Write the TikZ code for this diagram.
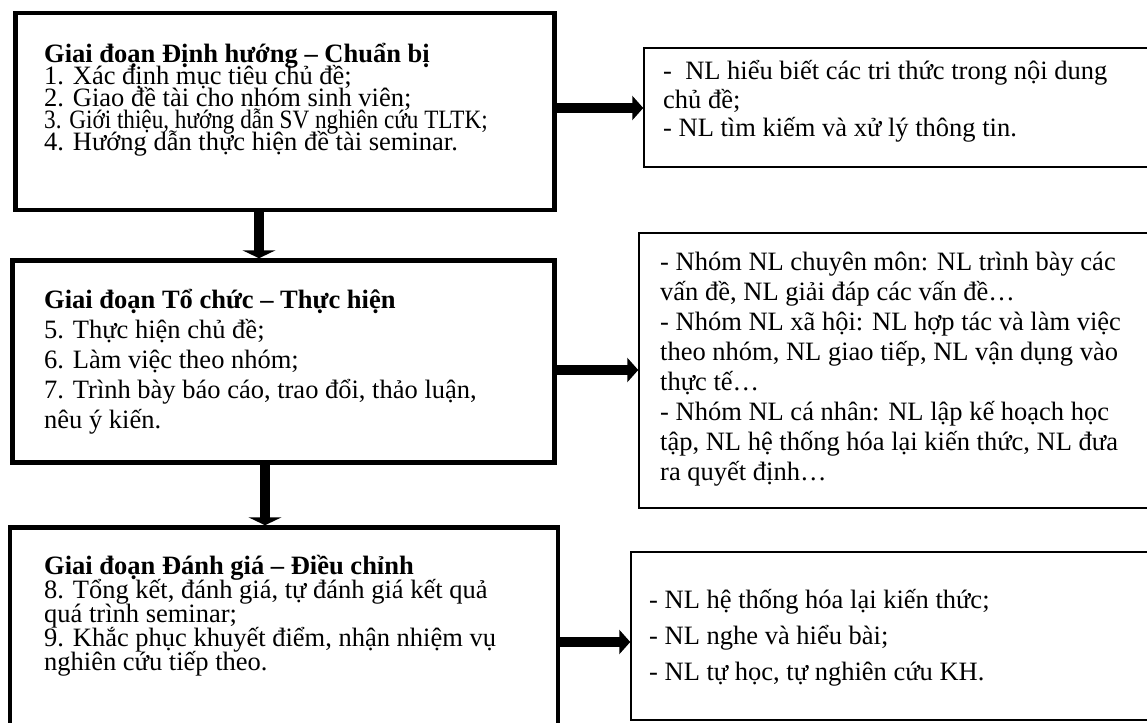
\documentclass[tikz,border=0pt]{standalone}
\usepackage{fontspec}
\setmainfont{Liberation Serif}
\usetikzlibrary{arrows.meta}
\begin{document}
\begin{tikzpicture}[x=1pt,y=-1pt,
  stage/.style={draw, line width=4.5pt, rectangle, inner sep=0pt},
  comp/.style={draw, line width=1.5pt, rectangle, inner sep=0pt},
  txt/.style={anchor=base west, inner sep=0pt, font=\fontsize{26.5}{30}\selectfont},
  ttl/.style={anchor=base west, inner sep=0pt, font=\fontsize{26.5}{30}\selectfont\bfseries},
  varrow/.style={line width=10pt, -{Triangle[length=8pt,width=33pt]}},
  harrow/.style={line width=10pt, -{Triangle[length=11pt,width=24pt]}}]
\path[use as bounding box, fill=white] (0,0) rectangle (1147,722);
\clip (0,0) rectangle (1147,722);

% stage boxes
\node[stage, minimum width=539pt, minimum height=197pt] (b1) at (285,111.5) {};
\node[stage, minimum width=542pt, minimum height=202pt] (b2) at (283.5,361.5) {};
\node[stage, minimum width=548pt, minimum height=232.5pt] (b3) at (284,643.75) {};
% competence boxes
\node[comp, minimum width=506pt, minimum height=119pt] (r1) at (897,107.5) {};
\node[comp, minimum width=511pt, minimum height=275pt] (r2) at (894.5,370.5) {};
\node[comp, minimum width=519pt, minimum height=168pt] (r3) at (890.5,636) {};

% arrows
\coordinate (v1) at (259,0);
\coordinate (v2) at (265,0);
\coordinate (h1) at (0,108);
\coordinate (h2) at (0,370);
\coordinate (h3) at (0,642);
\draw[varrow] (v1 |- b1.south) -- (v1 |- b2.north);
\draw[varrow] (v2 |- b2.south) -- (v2 |- b3.north);
\draw[harrow] (b1.east |- h1) -- (r1.west |- h1);
\draw[harrow] (b2.east |- h2) -- (r2.west |- h2);
\draw[harrow] (b3.east |- h3) -- (r3.west |- h3);

% stage 1 text
\node[ttl] (t1) at (44,62.5) {Giai đoạn Định hướng – Chuẩn bị};
\node[txt] (t1a) at (44,85) {1. Xác định mục tiêu chủ đề;};
\node[txt] (t1b) at (44,107) {2. Giao đề tài cho nhóm sinh viên;};
\node[txt] (t1c) at (44,129) {\scalebox{0.875}[1]{3. Giới thiệu, hướng dẫn SV nghiên cứu TLTK;}};
\node[txt] (t1d) at (44,151) {4. Hướng dẫn thực hiện đề tài seminar.};
% stage 2 text
\node[ttl] (t2) at (44,308) {Giai đoạn Tổ chức – Thực hiện};
\node[txt] (t2a) at (44,338) {5. Thực hiện chủ đề;};
\node[txt] (t2b) at (44,368) {6. Làm việc theo nhóm;};
\node[txt] (t2c) at (44,398) {7. Trình bày báo cáo, trao đổi, thảo luận,};
\node[txt] (t2d) at (44,428) {nêu ý kiến.};
% stage 3 text
\node[ttl] (t3) at (44,574) {Giai đoạn Đánh giá – Điều chỉnh};
\node[txt] (t3a) at (44,598) {8. Tổng kết, đánh giá, tự đánh giá kết quả};
\node[txt] (t3b) at (44,622) {quá trình seminar;};
\node[txt] (t3c) at (44,646) {9. Khắc phục khuyết điểm, nhận nhiệm vụ};
\node[txt] (t3d) at (44,670) {nghiên cứu tiếp theo.};

% competence 1 text
\node[txt] (c1a) at (663,80) {- \ NL hiểu biết các tri thức trong nội dung};
\node[txt] (c1b) at (663,109) {chủ đề;};
\node[txt] (c1c) at (663,137) {- NL tìm kiếm và xử lý thông tin.};
% competence 2 text
\node[txt] (c2a) at (660,270) {- Nhóm NL chuyên môn: NL trình bày các};
\node[txt] (c2b) at (660,300) {vấn đề, NL giải đáp các vấn đề…};
\node[txt] (c2c) at (660,330) {- Nhóm NL xã hội: NL hợp tác và làm việc};
\node[txt] (c2d) at (660,360) {theo nhóm, NL giao tiếp, NL vận dụng vào};
\node[txt] (c2e) at (660,390) {thực tế…};
\node[txt] (c2f) at (660,420) {- Nhóm NL cá nhân: NL lập kế hoạch học};
\node[txt] (c2g) at (660,450) {tập, NL hệ thống hóa lại kiến thức, NL đưa};
\node[txt] (c2h) at (660,480) {ra quyết định…};
% competence 3 text
\node[txt] (c3a) at (649,608) {- NL hệ thống hóa lại kiến thức;};
\node[txt] (c3b) at (649,644) {- NL nghe và hiểu bài;};
\node[txt] (c3c) at (649,680) {- NL tự học, tự nghiên cứu KH.};
\end{tikzpicture}
\end{document}
